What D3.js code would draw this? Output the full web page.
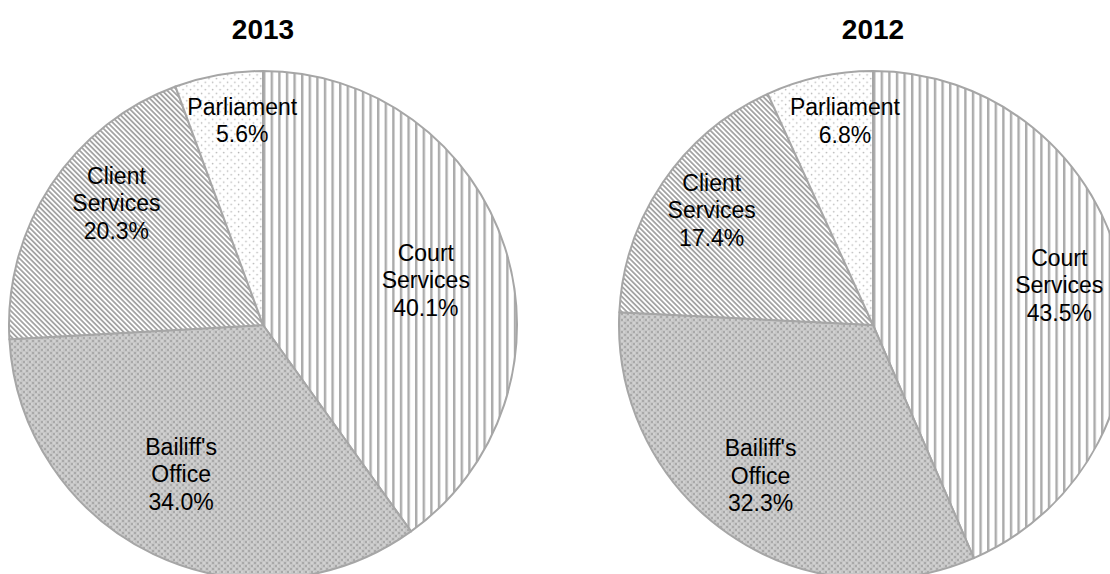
<!DOCTYPE html>
<html>
<head>
<meta charset="utf-8">
<script src="https://cdn.jsdelivr.net/npm/d3@7"></script>
<style>
  html, body { margin: 0; padding: 0; background: #fff; }
  svg { display: block; font-family: "Liberation Sans", Arial, sans-serif; }
</style>
</head>
<body>
<svg id="chart" width="1110" height="574"></svg>
<script>
// Share of expenditure by area, two years side by side
const categories = ["Court Services", "Bailiff's Office", "Client Services", "Parliament"];
const labelLines = [["Court", "Services"], ["Bailiff's", "Office"], ["Client", "Services"], ["Parliament"]];
const years = ["2013", "2012"];
const values2013 = [40.1, 34.0, 20.3, 5.6];
const values2012 = [43.5, 32.3, 17.4, 6.8];

const W = 1110, H = 574;
const svg = d3.select("#chart");
const defs = svg.append("defs");

// Fill patterns, one per category
function stripes(id, period, lineW, color, angle) {
  const p = defs.append("pattern").attr("id", id)
    .attr("patternUnits", "userSpaceOnUse")
    .attr("width", period).attr("height", period)
    .attr("patternTransform", `rotate(${angle})`);
  p.append("rect").attr("width", period).attr("height", period).attr("fill", "#fff");
  p.append("rect").attr("x", 0).attr("y", 0).attr("width", lineW).attr("height", period).attr("fill", color);
}
stripes("pat-court", 7.6, 2.4, "#ababab", 0);
stripes("pat-client", 3.6, 1.8, "#a4a4a4", -45);

(function () {
  const p = defs.append("pattern").attr("id", "pat-bailiff")
    .attr("patternUnits", "userSpaceOnUse").attr("width", 6).attr("height", 6);
  p.append("rect").attr("width", 6).attr("height", 6).attr("fill", "#c6c6c6");
  p.append("rect").attr("x", 0).attr("y", 0).attr("width", 2).attr("height", 2).attr("fill", "#a9a9a9");
  p.append("rect").attr("x", 3).attr("y", 3).attr("width", 2).attr("height", 2).attr("fill", "#a9a9a9");
  p.append("rect").attr("x", 2.5).attr("y", 0.5).attr("width", 1).attr("height", 1).attr("fill", "#f2f2f2");
  p.append("rect").attr("x", 0.5).attr("y", 3.5).attr("width", 1).attr("height", 1).attr("fill", "#f2f2f2");
})();

(function () {
  const p = defs.append("pattern").attr("id", "pat-parl")
    .attr("patternUnits", "userSpaceOnUse").attr("width", 7.4).attr("height", 7.4);
  p.append("rect").attr("width", 7.4).attr("height", 7.4).attr("fill", "#fff");
  p.append("circle").attr("cx", 1.5).attr("cy", 1.5).attr("r", 0.8).attr("fill", "#b5b5b5");
  p.append("circle").attr("cx", 5.2).attr("cy", 5.2).attr("r", 0.8).attr("fill", "#b5b5b5");
})();

const fills = d3.scaleOrdinal()
  .domain(categories)
  .range(["url(#pat-court)", "url(#pat-bailiff)", "url(#pat-client)", "url(#pat-parl)"]);

// Label placement inside each slice (radius as fraction of R, angular nudge in degrees)
const labelPlacement = {
  "2013": [{ rf: 0.665, da: 2.4 }, { rf: 0.67, da: 3.2 }, { rf: 0.75, da: 6.4 }, { rf: 0.81, da: 4.3 }],
  "2012": [{ rf: 0.75, da: -0.4 }, { rf: 0.74, da: 2.0 }, { rf: 0.78, da: 1.3 }, { rf: 0.81, da: 4.4 }]
};

const R = 254;
const cx = d3.scalePoint().domain(years).range([263, 873]);
const cy = 325;
const fontSize = 23, lineH = 27.5;

const pie = d3.pie().sort(null).value(d => d.value);
const arc = d3.arc().innerRadius(0).outerRadius(R);

[[years[0], values2013], [years[1], values2012]].forEach(([year, vals]) => {
  const data = categories.map((c, i) => ({ cat: c, lines: labelLines[i], value: vals[i] }));
  const g = svg.append("g").attr("transform", `translate(${cx(year)},${cy})`);

  const arcs = pie(data);
  g.selectAll("path.slice").data(arcs).join("path")
    .attr("class", "slice")
    .attr("d", arc)
    .attr("fill", d => fills(d.data.cat))
    .attr("stroke", "#a6a6a6")
    .attr("stroke-width", 2)
    .attr("stroke-linejoin", "round");

  // Data labels: category name and percentage
  arcs.forEach((d, i) => {
    const pl = labelPlacement[year][i];
    const a = (d.startAngle + d.endAngle) / 2 + pl.da * Math.PI / 180;
    const r = R * pl.rf;
    const x = r * Math.sin(a), y = -r * Math.cos(a);
    const lines = d.data.lines.concat([d.data.value.toFixed(1) + "%"]);
    const n = lines.length;
    const t = g.append("text")
      .attr("text-anchor", "middle")
      .attr("font-size", fontSize)
      .attr("fill", "#000");
    lines.forEach((ln, k) => {
      t.append("tspan")
        .attr("x", x)
        .attr("y", y + (k - (n - 1) / 2) * lineH + fontSize * 0.35)
        .text(ln);
    });
  });

  svg.append("text")
    .attr("x", cx(year))
    .attr("y", 39)
    .attr("text-anchor", "middle")
    .attr("font-size", 28)
    .attr("font-weight", "bold")
    .attr("fill", "#000")
    .text(year);
});
</script>
</body>
</html>
